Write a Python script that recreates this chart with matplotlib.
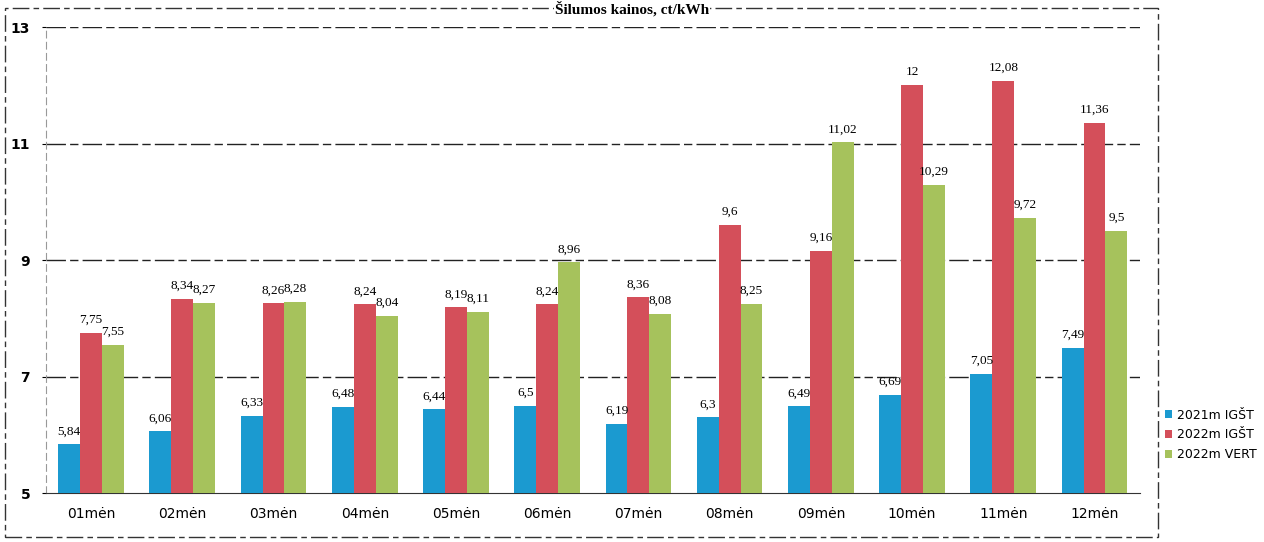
import matplotlib
matplotlib.use("Agg")
import matplotlib.pyplot as plt
import numpy as np
from matplotlib.patches import Rectangle

months = ["01mėn", "02mėn", "03mėn", "04mėn", "05mėn", "06mėn",
          "07mėn", "08mėn", "09mėn", "10mėn", "11mėn", "12mėn"]
igst_2021 = [5.84, 6.06, 6.33, 6.48, 6.44, 6.5, 6.19, 6.3, 6.49, 6.69, 7.05, 7.49]
igst_2022 = [7.75, 8.34, 8.26, 8.24, 8.19, 8.24, 8.36, 9.6, 9.16, 12, 12.08, 11.36]
vert_2022 = [7.55, 8.27, 8.28, 8.04, 8.11, 8.96, 8.08, 8.25, 11.02, 10.29, 9.72, 9.5]
series_names = ["2021m IGŠT", "2022m IGŠT", "2022m VERT"]
colors = ["#1b9ad0", "#d44f5a", "#a6c25c"]
yticks = [5, 7, 9, 11, 13]

fig = plt.figure(figsize=(12.64, 5.42), dpi=100)
ax = fig.add_axes([0.036, 0.090, 0.866, 0.860])

x = np.arange(len(months))
w = 0.24
series = [igst_2021, igst_2022, vert_2022]
for i, (vals, c, name) in enumerate(zip(series, colors, series_names)):
    pos = x + (i - 1) * w
    ax.bar(pos, np.array(vals) - 5, bottom=5, width=w, color=c, label=name, zorder=3)
    for px, v in zip(pos, vals):
        lab = ("%g" % v).replace(".", ",")
        ax.text(px, v + 0.12, lab, ha="center", va="bottom", fontsize=9.5,
                family="Liberation Serif", zorder=4)

ax.set_xlim(-0.5, len(months) - 0.5)
ax.set_ylim(5, 13)
ax.set_yticks(yticks)
ax.set_yticklabels([str(t) for t in yticks], fontsize=10, fontweight="bold", family="DejaVu Sans")
ax.set_xticks(x)
ax.set_xticklabels(months, fontsize=10, family="DejaVu Sans")
ax.tick_params(axis="x", length=0, pad=10)
ax.tick_params(axis="y", length=3, pad=8)
for t in [7, 9, 11, 13]:
    ax.axhline(t, color="#222222", lw=1.0, ls=(0, (14, 3, 6, 3)), zorder=1)
for s in ["top", "right"]:
    ax.spines[s].set_visible(False)
ax.spines["left"].set_color("#999999")
ax.spines["left"].set_linestyle((0, (6, 4)))
ax.spines["bottom"].set_color("#333333")

leg = ax.legend(loc="center left", bbox_to_anchor=(1.012, 0.125), frameon=False,
                fontsize=9, handlelength=0.6, handleheight=0.6, handletextpad=0.4,
                labelspacing=0.55)

# outer frame
fig.patches.append(Rectangle((0.004, 0.01), 0.912, 0.975, transform=fig.transFigure,
                             fill=False, edgecolor="#333333", lw=1.0, ls=(0, (12, 3, 4, 3))))
fig.text(0.5, 0.999, "Šilumos kainos, ct/kWh", ha="center", va="top",
         fontsize=11, fontweight="bold", family="Liberation Serif",
         bbox=dict(facecolor="white", edgecolor="none", pad=0.5))

fig.savefig("out.png", dpi=100)
